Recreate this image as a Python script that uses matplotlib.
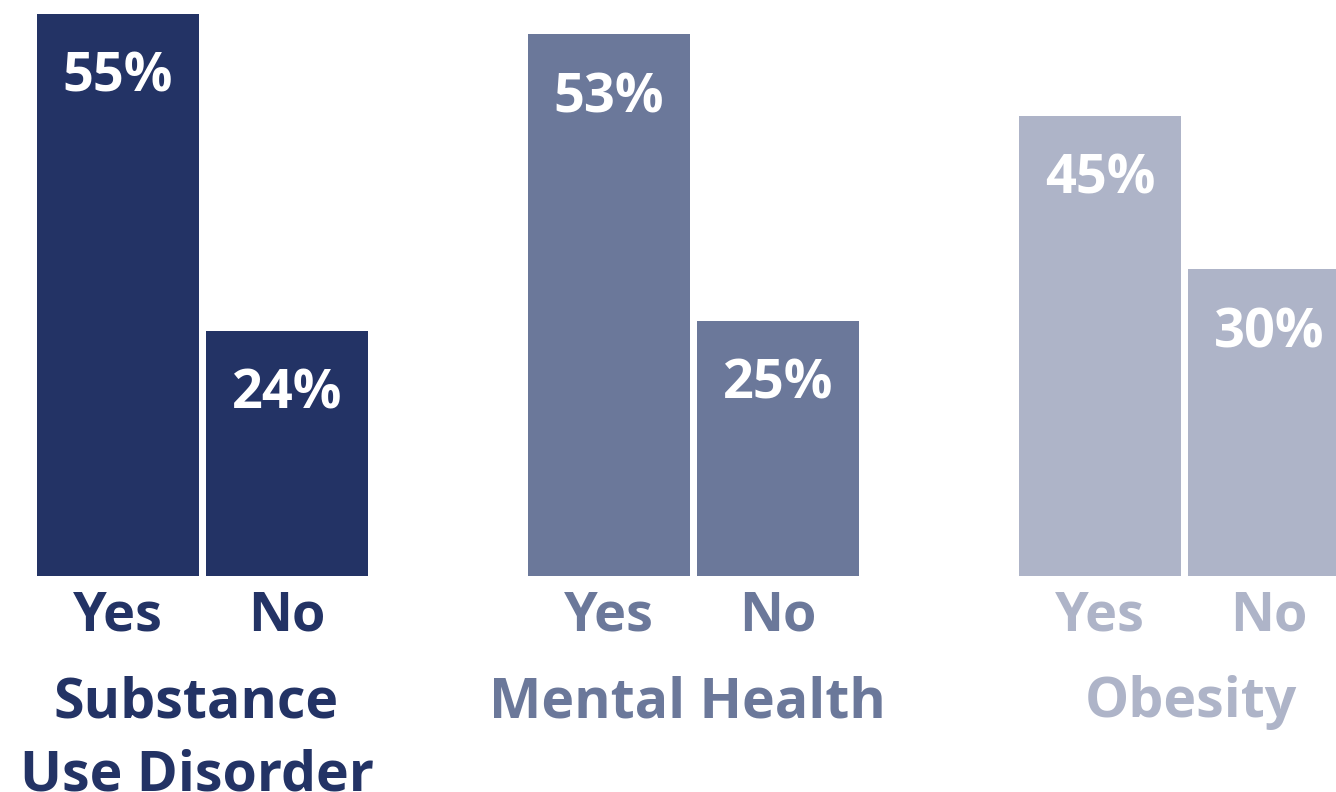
import numpy as np
import matplotlib.pyplot as plt

plt.rcParams['font.family'] = ['Open Sans', 'DejaVu Sans']

# Data
groups = ['Substance\nUse Disorder', 'Mental Health', 'Obesity']
answers = ['Yes', 'No']
yes_vals = [55, 53, 45]
no_vals = [24, 25, 30]
group_colors = ['#233365', '#6b789a', '#aeb4c8']

# Layout (pixel-like x units, percent on y)
bar_w = 162
bar_gap = 7
group_step = 491
x0 = 37
px_per_pct = 10.22
label_shift = [-6, -6, 6]

fig = plt.figure(figsize=(13.36, 7.92), dpi=100)
ax = fig.add_axes([0, 0, 1, 1])
ax.set_xlim(0, 1336)
ax.set_ylim(-216 / px_per_pct, 576 / px_per_pct)
ax.axis('off')

for i, (g, c) in enumerate(zip(groups, group_colors)):
    vals = [yes_vals[i], no_vals[i]]
    lefts = [x0 + i * group_step + j * (bar_w + bar_gap) for j in range(2)]
    for j, (left, v) in enumerate(zip(lefts, vals)):
        ax.bar(left, v, width=bar_w, align='edge', color=c, linewidth=0)
        cx = left + bar_w / 2
        ax.annotate(f'{v}%', (cx, v), xytext=(0, -26.5), textcoords='offset points',
                    ha='center', va='top', color='white', fontsize=39,
                    fontweight='bold')
        ax.text(cx, -1.3, answers[j], ha='center', va='top', color=c,
                fontsize=39, fontweight='bold')
    gc = (lefts[0] + lefts[1] + bar_w) / 2 + label_shift[i]
    ax.text(gc, -9.7, g, ha='center', va='top', color=c, fontsize=40,
            fontweight='bold', linespacing=1.43)

fig.savefig('out.png', dpi=100)
